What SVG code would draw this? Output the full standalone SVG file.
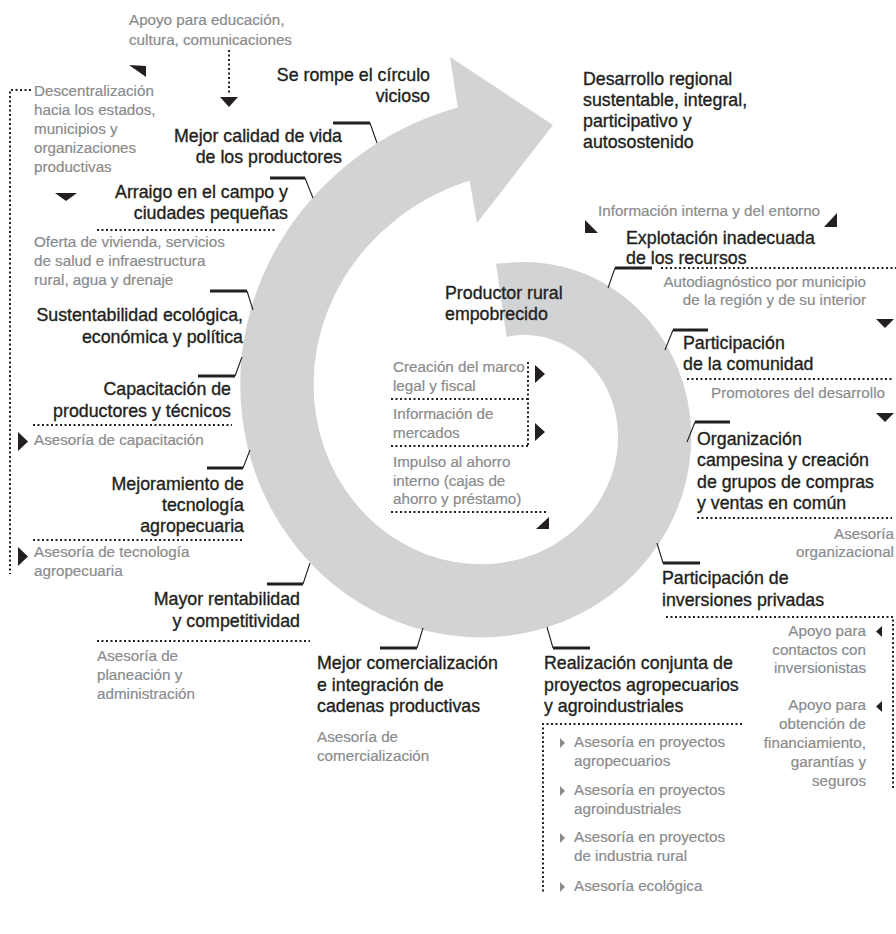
<svg xmlns="http://www.w3.org/2000/svg" width="896" height="934" viewBox="0 0 896 934">
<style>
text{font-family:'Liberation Sans',Arial,sans-serif}
.t{font-size:17.8px;fill:#231f20;stroke:#231f20;stroke-width:0.35px}
.g{font-size:15.2px;fill:#8a8b8d;stroke:#8a8b8d;stroke-width:0.2px}
.e{text-anchor:end}
.dot{fill:none;stroke:#231f20;stroke-width:2;stroke-dasharray:2 2.5}
.bar{fill:none;stroke:#231f20;stroke-width:3}
.dg{fill:none;stroke:#231f20;stroke-width:1.1}
.tri{fill:#231f20}
.gt{fill:#8a8b8d}
</style>
<rect width="896" height="934" fill="#fff"/>
<g id="spiral">
<path fill="#d1d3d4" d="M496,263.8 L506.6,263.0 A155.3,155.3 0 0 1 533.7,262.2 A158.5,158.5 0 0 1 561.0,266.3 A161.8,161.8 0 0 1 587.8,275.1 A165.1,165.1 0 0 1 613.1,288.8 A168.5,168.5 0 0 1 636.1,307.0 A172,172 0 0 1 656.0,329.4 A175.5,175.5 0 0 1 672.1,355.5 A179.1,179.1 0 0 1 683.6,384.5 A182.8,182.8 0 0 1 690.0,415.7 A186.6,186.6 0 0 1 690.9,448.2 A190.4,190.4 0 0 1 686.1,481.0 A194.3,194.3 0 0 1 675.4,513.2 A198.3,198.3 0 0 1 659.0,543.6 A202.4,202.4 0 0 1 637.1,571.2 A206.5,206.5 0 0 1 610.2,595.2 A210.8,210.8 0 0 1 578.9,614.4 A215.1,215.1 0 0 1 544.1,628.2 A219.5,219.5 0 0 1 506.6,636.0 A224,224 0 0 1 467.6,637.1 A228.7,228.7 0 0 1 428.1,631.3 A233.4,233.4 0 0 1 389.5,618.5 A238.2,238.2 0 0 1 353.0,598.7 A243.1,243.1 0 0 1 319.8,572.4 A248.1,248.1 0 0 1 291.1,540.1 A253.2,253.2 0 0 1 267.9,502.6 A258.4,258.4 0 0 1 251.3,460.7 A263.7,263.7 0 0 1 242.1,415.7 A269.1,269.1 0 0 1 240.7,368.8 A274.6,274.6 0 0 1 247.7,321.5 A280.3,280.3 0 0 1 263.1,275.1 A286.1,286.1 0 0 1 286.8,231.2 A291.9,291.9 0 0 1 318.4,191.4 A298,298 0 0 1 357.2,156.9 A304.1,304.1 0 0 1 402.3,129.1 A310.3,310.3 0 0 1 452.5,109.1 A313.8,313.8 0 0 1 457.8,107.6 L450,57 L553,125 L477,223 L469.6,180.7 A239.3,239.3 0 0 0 465.4,182.0 A235.8,235.8 0 0 0 427.6,198.6 A229.6,229.6 0 0 0 394.2,221.0 A223.4,223.4 0 0 0 365.9,248.0 A217.4,217.4 0 0 0 343.5,278.8 A211.6,211.6 0 0 0 327.2,312.1 A205.7,205.7 0 0 0 317.2,346.8 A200.1,200.1 0 0 0 313.6,381.7 A194.6,194.6 0 0 0 316.1,415.7 A189.2,189.2 0 0 0 324.2,447.9 A183.9,183.9 0 0 0 337.5,477.3 A178.6,178.6 0 0 0 355.2,503.1 A173.6,173.6 0 0 0 376.5,524.9 A168.6,168.6 0 0 0 400.6,542.0 A163.6,163.6 0 0 0 426.5,554.4 A158.9,158.9 0 0 0 453.5,561.7 A154.2,154.2 0 0 0 480.4,564.2 A149.5,149.5 0 0 0 506.6,562.0 A145,145 0 0 0 531.2,555.4 A140.6,140.6 0 0 0 553.6,544.9 A136.2,136.2 0 0 0 573.2,531.1 A132,132 0 0 0 589.5,514.6 A127.9,127.9 0 0 0 602.3,496.0 A123.8,123.8 0 0 0 611.3,476.2 A119.8,119.8 0 0 0 616.6,455.7 A115.9,115.9 0 0 0 618.0,435.4 A112.1,112.1 0 0 0 616.0,415.7 A108.3,108.3 0 0 0 610.7,397.4 A104.6,104.6 0 0 0 602.5,380.8 A101,101 0 0 0 591.9,366.4 A97.5,97.5 0 0 0 579.4,354.6 A94,94 0 0 0 565.5,345.5 A90.6,90.6 0 0 0 550.8,339.2 A87.3,87.3 0 0 0 535.7,335.8 A84,84 0 0 0 520.8,335.1 A80.8,80.8 0 0 0 506.6,337.0 Z"/>
</g>
<g id="connectors">
<path class="bar" d="M333,123H370M270,178H305M210,291H247M198,376H235M207,468H243M267,584H303M380,648H417M553,648H590M663,563H700M695,422H730M673,330H708M615,268H652"/>
<path class="dg" d="M370,123L377,143M305,178L313,198M247,291L253,310M235,376L242,357M243,468L250,450M303,584L310,563M417,648L423,628M547,627L553,648M657,543L663,563M687,442L695,422M665,350L673,330M608,288L615,268"/>
<path class="dot" d="M229,50V93M31,90H10V574M97,230H277M33,425H232M33,540H244M97,641H310M742,724H543V893M666,617H893V790M697,518H892M687,379H892M661,268H896M391,399H528M391,446H528M528,362V446M391,512H548"/>
<polygon class="tri" points="220,97 238,97 229,107"/>
<polygon class="tri" points="129,65 146,66 146,77"/>
<polygon class="tri" points="55,193 77,193 66,201"/>
<polygon class="tri" points="18,432 18,451 28,441.5"/>
<polygon class="tri" points="18,547 18,566 28,556.5"/>
<polygon class="tri" points="585,220 585,233 598,233"/>
<polygon class="tri" points="837,213 837,227 824,227"/>
<polygon class="tri" points="876,319 894,319 885,328"/>
<polygon class="tri" points="876,413 894,413 885,422"/>
<polygon class="tri" points="535,365 535,383 545,374"/>
<polygon class="tri" points="535,423 535,441 545,432"/>
<polygon class="tri" points="549,517 549,529 536,529"/>
<polygon class="tri" points="882,626 882,637 876,631.5"/>
<polygon class="tri" points="882,701 882,712 876,706.5"/>
<polygon class="gt" points="560,738 560,748 565,743"/>
<polygon class="gt" points="560,786 560,796 565,791"/>
<polygon class="gt" points="560,833 560,843 565,838"/>
<polygon class="gt" points="560,882 560,892 565,887"/>
</g>
<g id="n-rompe"><text class="t e" x="430" y="81">Se rompe el círculo</text><text class="t e" x="430" y="102">vicioso</text></g>
<g id="n-calidad"><text class="t e" x="342" y="142">Mejor calidad de vida</text><text class="t e" x="342" y="163">de los productores</text></g>
<g id="n-arraigo"><text class="t e" x="288" y="198">Arraigo en el campo y</text><text class="t e" x="288" y="219">ciudades pequeñas</text></g>
<g id="n-sustent"><text class="t e" x="243" y="321">Sustentabilidad ecológica,</text><text class="t e" x="243" y="343">económica y política</text></g>
<g id="n-capac"><text class="t e" x="231" y="395">Capacitación de</text><text class="t e" x="231" y="417">productores y técnicos</text></g>
<g id="n-mejora"><text class="t e" x="244" y="490">Mejoramiento de</text><text class="t e" x="244" y="511">tecnología</text><text class="t e" x="244" y="532">agropecuaria</text></g>
<g id="n-rentab"><text class="t e" x="300" y="605">Mayor rentabilidad</text><text class="t e" x="300" y="627">y competitividad</text></g>
<g id="n-comerc"><text class="t" x="317" y="669">Mejor comercialización</text><text class="t" x="317" y="691">e integración de</text><text class="t" x="317" y="712">cadenas productivas</text></g>
<g id="n-realiz"><text class="t" x="544" y="669">Realización conjunta de</text><text class="t" x="544" y="691">proyectos agropecuarios</text><text class="t" x="544" y="712">y agroindustriales</text></g>
<g id="n-inversion"><text class="t" x="662" y="584">Participación de</text><text class="t" x="662" y="606">inversiones privadas</text></g>
<g id="n-organiz"><text class="t" x="697" y="445">Organización</text><text class="t" x="697" y="466">campesina y creación</text><text class="t" x="697" y="488">de grupos de compras</text><text class="t" x="697" y="509">y ventas en común</text></g>
<g id="n-comunidad"><text class="t" x="683" y="349">Participación</text><text class="t" x="683" y="370">de la comunidad</text></g>
<g id="n-explot"><text class="t" x="626" y="244">Explotación inadecuada</text><text class="t" x="626" y="264">de los recursos</text></g>
<g id="n-desarrollo"><text class="t" x="583" y="85">Desarrollo regional</text><text class="t" x="583" y="106">sustentable, integral,</text><text class="t" x="583" y="127">participativo y</text><text class="t" x="583" y="148">autosostenido</text></g>
<g id="n-productor"><text class="t" x="445" y="299">Productor rural</text><text class="t" x="445" y="320">empobrecido</text></g>
<g id="n-apoyo-edu"><text class="g" x="129" y="25">Apoyo para educación,</text><text class="g" x="129" y="45">cultura, comunicaciones</text></g>
<g id="n-descentral"><text class="g" x="34" y="96">Descentralización</text><text class="g" x="34" y="115">hacia los estados,</text><text class="g" x="34" y="134">municipios y</text><text class="g" x="34" y="153">organizaciones</text><text class="g" x="34" y="172">productivas</text></g>
<g id="n-oferta"><text class="g" x="34" y="247">Oferta de vivienda, servicios</text><text class="g" x="34" y="266">de salud e infraestructura</text><text class="g" x="34" y="285">rural, agua y drenaje</text></g>
<g id="n-ases-capac"><text class="g" x="34" y="445">Asesoría de capacitación</text></g>
<g id="n-ases-tec"><text class="g" x="34" y="557">Asesoría de tecnología</text><text class="g" x="34" y="576">agropecuaria</text></g>
<g id="n-ases-plan"><text class="g" x="97" y="661">Asesoría de</text><text class="g" x="97" y="680">planeación y</text><text class="g" x="97" y="699">administración</text></g>
<g id="n-ases-comerc"><text class="g" x="317" y="742">Asesoría de</text><text class="g" x="317" y="761">comercialización</text></g>
<g id="n-info"><text class="g" x="598" y="216">Información interna y del entorno</text></g>
<g id="n-autodiag"><text class="g e" x="866" y="287">Autodiagnóstico por municipio</text><text class="g e" x="866" y="305">de la región y de su interior</text></g>
<g id="n-promotores"><text class="g e" x="885" y="398">Promotores del desarrollo</text></g>
<g id="n-ases-org"><text class="g e" x="894" y="539">Asesoría</text><text class="g e" x="894" y="557">organizacional</text></g>
<g id="n-apoyo-contactos"><text class="g e" x="866" y="636">Apoyo para</text><text class="g e" x="866" y="655">contactos con</text><text class="g e" x="866" y="673">inversionistas</text></g>
<g id="n-apoyo-financ"><text class="g e" x="866" y="710">Apoyo para</text><text class="g e" x="866" y="729">obtención de</text><text class="g e" x="866" y="748">financiamiento,</text><text class="g e" x="866" y="767">garantías y</text><text class="g e" x="866" y="786">seguros</text></g>
<g id="n-ases-proy"><text class="g" x="574" y="747">Asesoría en proyectos</text><text class="g" x="574" y="766">agropecuarios</text><text class="g" x="574" y="795">Asesoría en proyectos</text><text class="g" x="574" y="814">agroindustriales</text><text class="g" x="574" y="842">Asesoría en proyectos</text><text class="g" x="574" y="861">de industria rural</text><text class="g" x="574" y="891">Asesoría ecológica</text></g>
<g id="n-marco"><text class="g" x="393" y="372">Creación del marco</text><text class="g" x="393" y="391">legal y fiscal</text></g>
<g id="n-mercados"><text class="g" x="393" y="419">Información de</text><text class="g" x="393" y="438">mercados</text></g>
<g id="n-ahorro"><text class="g" x="393" y="467">Impulso al ahorro</text><text class="g" x="393" y="486">interno (cajas de</text><text class="g" x="393" y="504">ahorro y préstamo)</text></g>
</svg>
